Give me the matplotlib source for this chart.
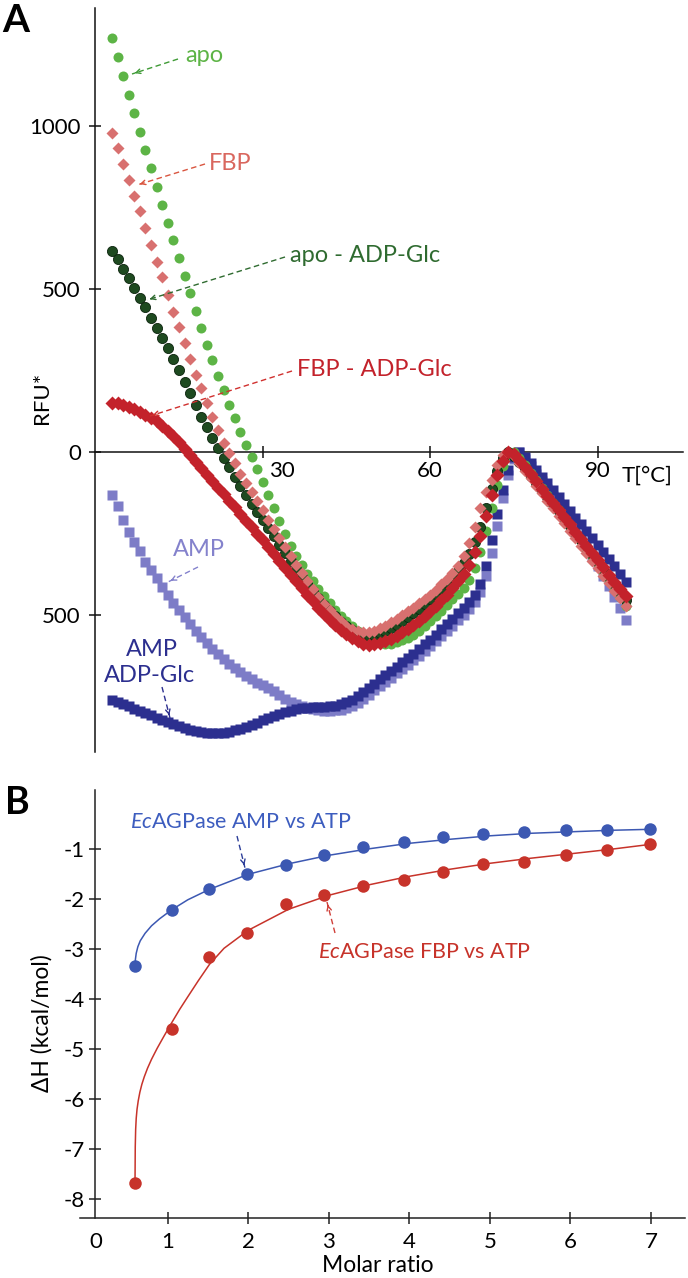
import matplotlib
matplotlib.use("Agg")
import matplotlib.pyplot as plt
from matplotlib.lines import Line2D
from matplotlib.patches import FancyArrowPatch

plt.rcParams['font.family'] = ['Lato', 'DejaVu Sans']
plt.rcParams['mathtext.fontset'] = 'custom'
plt.rcParams['mathtext.it'] = 'Lato:italic'
plt.rcParams['mathtext.rm'] = 'Lato'

# ---------------- Panel A data (T in degC, RFU*) ----------------
temperature = list(range(3, 96))

apo = [1271, 1214, 1153, 1097, 1042, 984, 928, 871, 813, 759,
       703, 650, 597, 541, 488, 435, 381, 330, 284, 235,
       190, 144, 105, 61, 23, -13, -52, -91, -130, -171,
       -210, -251, -287, -318, -346, -372, -396, -419, -441, -462,
       -482, -501, -518, -534, -548, -561, -572, -580, -586, -588,
       -587, -583, -577, -569, -559, -547, -533, -518, -502, -486,
       -469, -450, -435, -415, -390, -355, -305, -240, -170, -100,
       -42, -8, 0, -18, -40, -63, -86, -109, -132, -155,
       -178, -201, -224, -247, -271, -295, -319, -343, -368, -393,
       -418, -444, -470]

apo_adpglc = [619, 593, 562, 534, 504, 473, 445, 412, 381, 350,
              320, 286, 253, 217, 182, 146, 110, 77, 44, 13,
              -16, -45, -74, -102, -130, -157, -183, -208, -233, -258,
              -283, -308, -333, -357, -381, -404, -426, -447, -467, -486,
              -503, -519, -533, -545, -554, -560, -562, -560, -555, -548,
              -539, -529, -518, -506, -493, -479, -465, -450, -434, -418,
              -401, -383, -363, -340, -312, -275, -228, -172, -112, -58,
              -18, 0, -10, -28, -49, -71, -93, -115, -137, -159,
              -181, -203, -225, -247, -269, -291, -313, -335, -358, -381,
              -404, -428, -452]

fbp = [979, 933, 885, 836, 787, 739, 688, 637, 585, 537,
       483, 432, 384, 335, 286, 238, 197, 151, 108, 69,
       30, -3, -34, -65, -93, -122, -150, -178, -206, -234,
       -262, -290, -318, -345, -371, -396, -420, -443, -464, -484,
       -502, -518, -531, -542, -549, -552, -551, -547, -540, -531,
       -521, -511, -500, -488, -476, -463, -450, -436, -421, -405,
       -388, -370, -348, -318, -278, -228, -172, -120, -85, -40,
       -8, 2, -12, -33, -56, -79, -102, -125, -148, -171,
       -194, -217, -240, -263, -286, -309, -332, -355, -378, -401,
       -424, -447, -470]

fbp_adpglc = [152, 150, 146, 140, 133, 125, 116, 106, 95, 82,
              67, 50, 31, 11, -9, -29, -49, -69, -89, -109,
              -129, -149, -169, -189, -209, -229, -249, -270, -291, -312,
              -333, -354, -375, -396, -417, -437, -457, -476, -495, -513,
              -530, -545, -558, -570, -580, -587, -590, -589, -585, -579,
              -571, -562, -552, -541, -529, -516, -502, -487, -471, -454,
              -436, -417, -396, -372, -345, -305, -255, -195, -130, -70,
              -25, 0, -5, -24, -45, -67, -89, -111, -133, -155,
              -177, -199, -221, -243, -265, -287, -309, -331, -353, -375,
              -397, -419, -441]

amp = [-130, -166, -207, -243, -274, -304, -335, -360, -386, -412,
       -437, -461, -483, -506, -527, -548, -567, -585, -603, -619,
       -634, -649, -662, -674, -686, -696, -706, -715, -724, -733,
       -745, -756, -765, -773, -779, -784, -788, -791, -792, -792,
       -791, -789, -785, -778, -768, -756, -743, -730, -717, -704,
       -691, -678, -665, -652, -638, -624, -610, -595, -580, -564,
       -548, -532, -515, -498, -480, -458, -428, -378, -308, -225,
       -140, -70, -20, 0, -20, -42, -65, -88, -111, -134,
       -157, -180, -204, -230, -258, -288, -318, -348, -378, -410,
       -443, -478, -515]

amp_adpglc = [-760, -766, -772, -779, -786, -793, -800, -807, -814, -821,
              -828, -834, -840, -845, -850, -854, -857, -860, -861, -861,
              -860, -857, -853, -848, -842, -836, -829, -822, -815, -808,
              -802, -797, -792, -788, -785, -783, -782, -781, -780, -779,
              -777, -773, -767, -758, -747, -735, -722, -709, -696, -683,
              -670, -657, -644, -631, -617, -603, -589, -574, -559, -543,
              -527, -511, -494, -477, -459, -438, -405, -350, -270, -190,
              -115, -55, -15, 0, -14, -33, -53, -74, -95, -116,
              -137, -158, -179, -200, -221, -242, -263, -284, -305, -327,
              -350, -374, -398]

a_yticks = [1000, 500, 0, -500]
a_yticklabels = ['1000', '500', '0', '500']
a_xticks = [30, 60, 90]

# ---------------- Panel B data ----------------
molar_ratio = [0.595, 1.054, 1.517, 1.98, 2.465, 2.94, 3.43,
               3.93, 4.42, 4.92, 5.43, 5.945, 6.46, 6.99]
dh_amp = [-3.33, -2.21, -1.79, -1.49, -1.31, -1.12, -0.95,
          -0.86, -0.75, -0.70, -0.65, -0.62, -0.62, -0.59]
dh_fbp = [-7.67, -4.59, -3.15, -2.67, -2.09, -1.91, -1.74,
          -1.61, -1.45, -1.30, -1.25, -1.12, -1.01, -0.89]

fit_amp_x = [0.595, 0.60, 0.61, 0.63, 0.66, 0.72, 0.8, 0.9, 1.05, 1.25, 1.52, 2.0,
             2.5, 3.0, 3.5, 4.0, 4.5, 5.0, 5.5, 6.0, 6.5, 7.0]
fit_amp_y = [-3.33, -3.20, -3.08, -2.95, -2.83, -2.68, -2.53, -2.39, -2.21, -2.01, -1.80, -1.50,
             -1.29, -1.12, -0.99, -0.88, -0.80, -0.73, -0.68, -0.65, -0.62, -0.60]
fit_fbp_x = [0.595, 0.598, 0.603, 0.61, 0.62, 0.635, 0.655, 0.68, 0.71, 0.75,
             0.80, 0.87, 0.95, 1.05, 1.15, 1.25, 1.38, 1.52, 1.7, 2.0,
             2.5, 3.0, 3.5, 4.0, 4.5, 5.0, 5.5, 6.0, 6.5, 7.0]
fit_fbp_y = [-7.67, -6.95, -6.60, -6.38, -6.20, -6.03, -5.86, -5.70, -5.55, -5.38,
             -5.20, -4.98, -4.75, -4.47, -4.20, -3.95, -3.63, -3.30, -2.98, -2.62,
             -2.20, -1.92, -1.71, -1.54, -1.40, -1.28, -1.18, -1.09, -1.00, -0.90]

b_yticks = [-1, -2, -3, -4, -5, -6, -7, -8]
b_xticks = [1, 2, 3, 4, 5, 6, 7]

# ---------------- Figure ----------------
W, H = 688, 1278
fig = plt.figure(figsize=(W / 100, H / 100), dpi=100)


def fx(x):
    return x / W


def fy(y):
    return 1 - y / H


def arrow(x0, y0, x1, y1, color):
    line = Line2D([fx(x0), fx(x1)], [fy(y0), fy(y1)], transform=fig.transFigure,
                  color=color, lw=1.0, ls=(0, (4, 2.5)))
    fig.add_artist(line)
    dx, dy = x1 - x0, y1 - y0
    n = (dx * dx + dy * dy) ** 0.5
    hx, hy = x1 - dx / n * 7, y1 - dy / n * 7
    head = FancyArrowPatch((fx(hx), fy(hy)), (fx(x1), fy(y1)), transform=fig.transFigure,
                           arrowstyle='->', mutation_scale=8, color=color, lw=1.0)
    fig.add_artist(head)


TICK = 8.6
# Panel A
axA = fig.add_axes([95.2 / W, 1 - 752 / H, (683 - 95.2) / W, (752 - 8) / H])
axA.set_xlim(0, 105.3)
axA.set_ylim(-919, 1363)
for s in ['top', 'right']:
    axA.spines[s].set_visible(False)
axA.spines['bottom'].set_position(('data', 0))
for s in ['bottom', 'left']:
    axA.spines[s].set_linewidth(1.1)
    axA.spines[s].set_color('#111111')
axA.set_xticks(a_xticks)
axA.set_xticklabels([])
axA.set_yticks(a_yticks)
axA.set_yticklabels(a_yticklabels)
axA.tick_params(direction='inout', length=TICK, width=1.1, color='#111111',
                labelsize=16, pad=6)
axA.tick_params(axis='x', labelbottom=False)

c_lblue = '#7D7CC7'
c_dblue = '#2C2F8F'
c_green = '#5DB446'
c_dgreen = '#1E4A20'
c_lred = '#D8706F'
c_red = '#C3222B'

axA.plot(temperature, amp, ls='none', marker='s', ms=7.2, color=c_lblue, mec='none', zorder=2)
axA.plot(temperature, amp_adpglc, ls='none', marker='s', ms=7.2, color=c_dblue, mec='none', zorder=3)
axA.plot(temperature, apo, ls='none', marker='o', ms=7.2, color=c_green, mec='none', zorder=4)
axA.plot(temperature, apo_adpglc, ls='none', marker='o', ms=7.3, color=c_dgreen, mec='#0C240E',
         mew=0.6, zorder=5)
axA.plot(temperature, fbp, ls='none', marker='D', ms=6.6, color=c_lred, mec='none', zorder=6)
axA.plot(temperature, fbp_adpglc, ls='none', marker='D', ms=7.4, color=c_red, mec='none', zorder=7)

# x tick labels (placed like the original)
for xv, dx in zip(a_xticks, [19, 0, 0]):
    xp = 95.2 + xv * (683 - 95.2) / 105.3 + dx
    fig.text(fx(xp), fy(461), str(xv), ha='center', va='top', fontsize=16)

fig.text(fx(622), fy(476), 'T[°C]', ha='left', va='center', fontsize=16)
fig.text(fx(42), fy(398), 'RFU*', ha='center', va='center', rotation=90, fontsize=16)
fig.text(fx(2), fy(21), 'A', ha='left', va='center', fontsize=28, fontweight='bold')

fig.text(fx(185), fy(56), 'apo', color=c_green, ha='left', va='center', fontsize=17)
arrow(178, 59, 132, 74, '#3E9A35')
fig.text(fx(209), fy(163), 'FBP', color='#D9675E', ha='left', va='center', fontsize=17)
arrow(205, 164, 137, 185, '#D9553F')
fig.text(fx(290), fy(255), 'apo - ADP-Glc', color='#2F6B30', ha='left', va='center', fontsize=17)
arrow(285, 257, 147, 300, '#2F6B30')
fig.text(fx(297), fy(369), 'FBP - ADP-Glc', color='#C3222B', ha='left', va='center', fontsize=17)
arrow(292, 371, 150, 416, '#D0302E')
fig.text(fx(173), fy(550), 'AMP', color='#8482CC', ha='left', va='center', fontsize=17)
arrow(198, 567, 168, 582, '#8482CC')
fig.text(fx(152), fy(650), 'AMP', color='#2C2F8F', ha='center', va='center', fontsize=17)
fig.text(fx(149), fy(675), 'ADP-Glc', color='#2C2F8F', ha='center', va='center', fontsize=17)
arrow(162, 687, 170, 718, '#2C2F8F')

# Panel B
axB = fig.add_axes([80 / W, 1 - 1217.7 / H, 605 / W, (1217.7 - 790) / H])
axB.set_xlim(-0.088, 7.423)
axB.set_ylim(-8.368, 0.186)
for s in ['top', 'right']:
    axB.spines[s].set_visible(False)
axB.spines['left'].set_position(('data', 0.098))
for s in ['bottom', 'left']:
    axB.spines[s].set_linewidth(1.1)
    axB.spines[s].set_color('#222222')
axB.set_yticks(b_yticks)
axB.set_yticklabels([str(v) for v in b_yticks])
axB.set_xticks(b_xticks)
axB.set_xticklabels([str(v) for v in b_xticks])
axB.tick_params(direction='inout', length=TICK, width=1.1, color='#222222', labelsize=16)
axB.tick_params(axis='y', pad=3)
axB.tick_params(axis='x', pad=6)

c_bblue = '#3C58B2'
c_bred = '#C7332A'
axB.plot(fit_amp_x, fit_amp_y, color=c_bblue, lw=1.1, zorder=2)
axB.plot(fit_fbp_x, fit_fbp_y, color=c_bred, lw=1.1, zorder=2)
axB.plot(molar_ratio, dh_amp, ls='none', marker='o', ms=9, color=c_bblue, mec='none', zorder=3)
axB.plot(molar_ratio, dh_fbp, ls='none', marker='o', ms=9, color=c_bred, mec='none', zorder=3)

fig.text(fx(96), fy(1232), '0', ha='center', va='top', fontsize=16)
fig.text(fx(378), fy(1266), 'Molar ratio', ha='center', va='center', fontsize=16.5)
fig.text(fx(42), fy(1023), 'ΔH (kcal/mol)', ha='center', va='center', rotation=90, fontsize=16.5)
fig.text(fx(5), fy(803), 'B', ha='left', va='center', fontsize=27, fontweight='bold')

fig.text(fx(130), fy(822), r'$\mathit{Ec}$AGPase AMP vs ATP', color='#3D5DBF',
         ha='left', va='center', fontsize=15.5)
arrow(237, 836, 245, 868, '#2C3E99')
fig.text(fx(318), fy(952), r'$\mathit{Ec}$AGPase FBP vs ATP', color=c_bred,
         ha='left', va='center', fontsize=15.5)
arrow(335, 933, 327, 902, '#D0403A')

fig.savefig('out.png', dpi=100)
